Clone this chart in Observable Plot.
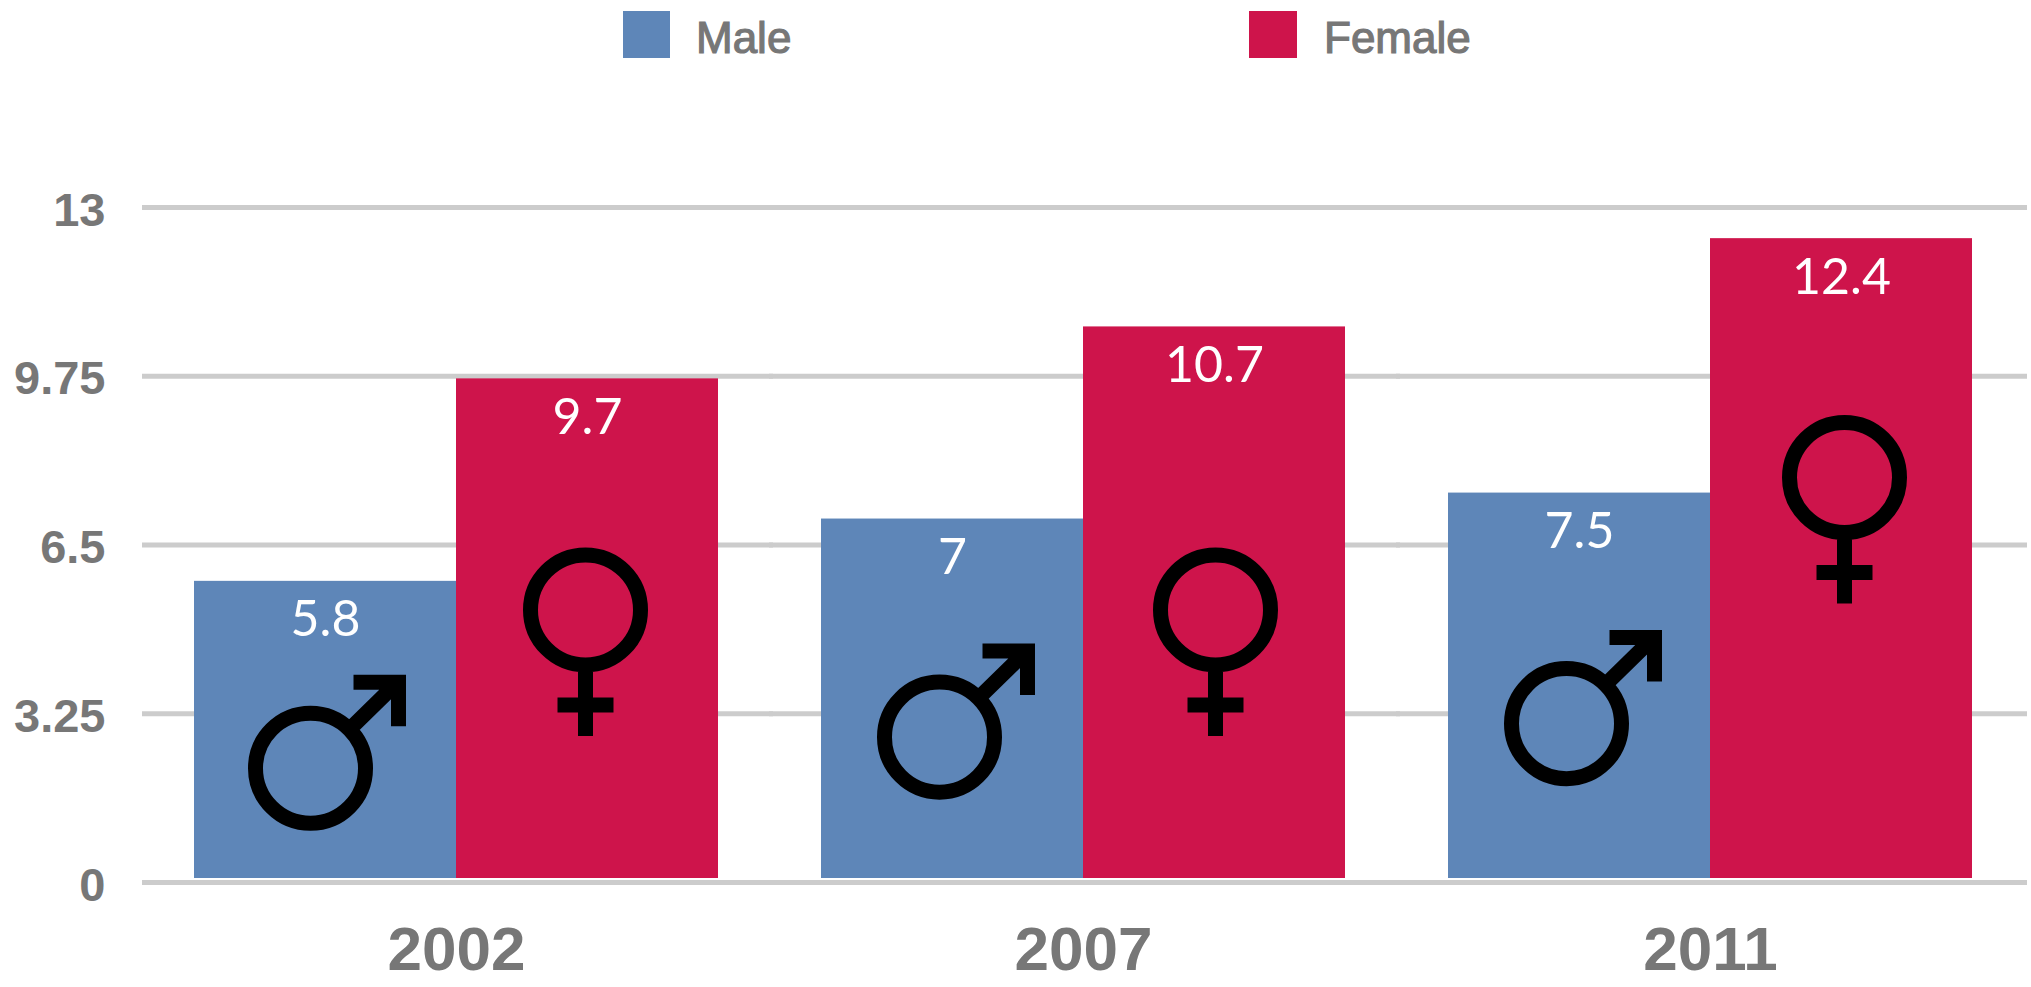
<!DOCTYPE html>
<html>
<head>
<meta charset="utf-8">
<script src="https://cdn.jsdelivr.net/npm/d3@7"></script>
<script src="https://cdn.jsdelivr.net/npm/@observablehq/plot@0.6"></script>
<style>
  html, body { margin: 0; padding: 0; background: #fff; }
  #legend { position: relative; height: 80px; width: 2031px; font-family: "Liberation Sans", sans-serif; font-size: 44px; color: #777; -webkit-text-stroke: 1.2px #777; }
  .sw { position: absolute; top: 11px; height: 47px; }
  .lb { position: absolute; top: 13px; line-height: 50px; }
  svg { display: block; }
</style>
</head>
<body>
<div id="legend"></div>
<div id="chart"></div>
<script>
const years = ["2002", "2007", "2011"];
const genders = ["Male", "Female"];
const maleValues = [5.8, 7, 7.5];
const femaleValues = [9.7, 10.7, 12.4];
const maleSymbolY = [2.2, 2.8, 3.06];
const femaleSymbolY = [5.25, 5.25, 7.8];
const maleSymbolDx = [-15, -13, -13];
const femaleSymbolDx = [-2, 1, 3];
const yTicks = [0, 3.25, 6.5, 9.75, 13];
const colors = ["#5E86B8", "#CE144B"];

const rows = years.flatMap((year, i) => [
  {year, gender: "Male", value: maleValues[i], symbolY: maleSymbolY[i]},
  {year, gender: "Female", value: femaleValues[i], symbolY: femaleSymbolY[i]}
]);

const ringR = 55;
const maleSymbol = {
  draw(ctx, size) {
    const k = Math.sqrt(size / Math.PI) / ringR;
    ctx.moveTo(ringR * k, 0);
    ctx.arc(0, 0, ringR * k, 0, 2 * Math.PI);
    ctx.moveTo(39 * k, -39 * k);
    ctx.lineTo(87 * k, -86 * k);
    ctx.moveTo(43 * k, -86 * k);
    ctx.lineTo(88 * k, -86 * k);
    ctx.lineTo(88 * k, -42 * k);
  }
};
const femaleSymbol = {
  draw(ctx, size) {
    const k = Math.sqrt(size / Math.PI) / ringR;
    ctx.moveTo(ringR * k, 0);
    ctx.arc(0, 0, ringR * k, 0, 2 * Math.PI);
    ctx.moveTo(0, ringR * k);
    ctx.lineTo(0, 126 * k);
    ctx.moveTo(-28 * k, 95 * k);
    ctx.lineTo(28 * k, 95 * k);
  }
};

const legend = document.getElementById("legend");
[[623, 47, 696], [1249, 48, 1324]].forEach(([sx, sw, tx], i) => {
  legend.insertAdjacentHTML("beforeend",
    `<div class="sw" style="left:${sx}px;width:${sw}px;background:${colors[i]}"></div>` +
    `<div class="lb" style="left:${tx}px">${genders[i]}</div>`);
});

const symbolMarks = years.flatMap((year, i) => [
  Plot.dot(rows.filter(d => d.year === year && d.gender === "Male"), {fx: "year", x: "gender", y: "symbolY", dx: maleSymbolDx[i], r: ringR, symbol: maleSymbol, fill: "none", stroke: "black", strokeWidth: 15}),
  Plot.dot(rows.filter(d => d.year === year && d.gender === "Female"), {fx: "year", x: "gender", y: "symbolY", dx: femaleSymbolDx[i], r: ringR, symbol: femaleSymbol, fill: "none", stroke: "black", strokeWidth: 15})
]);

const chart = Plot.plot({
  width: 2031,
  height: 907,
  marginTop: 127,
  marginBottom: 105,
  marginLeft: 141,
  marginRight: 6,
  style: {background: "#fff", fontFamily: "Liberation Sans, sans-serif"},
  y: {domain: [0, 13], axis: null},
  x: {domain: genders, padding: 0, axis: null},
  fx: {domain: years, paddingInner: 0.165, paddingOuter: 0.084, label: null, axis: null},
  color: {domain: genders, range: colors},
  marks: [
    Plot.ruleY(yTicks, {stroke: "#cccccc", strokeWidth: 5, insetLeft: -52, insetRight: -55}),
    Plot.barY(rows, {fx: "year", x: "gender", y: "value", fill: "gender", insetBottom: 4}),
    Plot.text(rows, {fx: "year", x: "gender", y: "value", text: d => String(d.value), dy: 39, fill: "white", fontSize: 50, fontFamily: "Lato, sans-serif", fontWeight: 400}),
    ...symbolMarks,
    Plot.axisY({ticks: yTicks, tickFormat: String, tickSize: 0, tickPadding: 89, dy: 3, fontSize: 47, fontWeight: "bold", fill: "#777", label: null}),
    Plot.axisFx({anchor: "bottom", tickSize: 0, tickPadding: 43, fontSize: 62, fontWeight: "bold", fill: "#777", label: null})
  ]
});
document.getElementById("chart").appendChild(chart);
</script>
</body>
</html>
